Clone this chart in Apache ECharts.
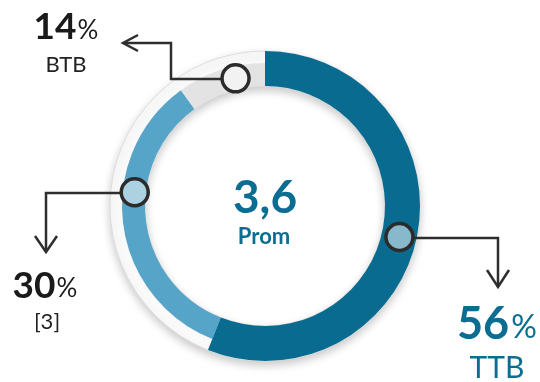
<!DOCTYPE html>
<html>
<head>
<meta charset="utf-8">
<script src="https://cdn.jsdelivr.net/npm/echarts@6/dist/echarts.min.js"></script>
<style>
html,body{margin:0;padding:0;background:#fff;}
#chart{width:540px;height:382px;}
</style>
</head>
<body>
<div id="chart"></div>
<script>
// ---- data ----
var categories = ['TTB', '[3]', 'BTB'];
var labelPct = [56, 30, 14];            // printed percentages
var arcShare = [56, 34, 10];            // arc sizes as drawn in the reference
var markerAngle = [103, 276, 347];      // degrees clockwise from 12 o'clock
var markerRadius = [138, 131, 131];
var avgValue = '3,6';
var avgLabel = 'Prom';

var DARK = '#086b8f', LIGHT = '#56a4c7', GRAY = '#e3e3e3', TEAL = '#0b6d91';
var CX = 265, CY = 206;
var T = 'rgba(0,0,0,0)';

var chart = echarts.init(document.getElementById('chart'), null, {renderer: 'canvas'});

function txt(x, y, text, font, color) {
  return {type: 'text', x: x, y: y, z: 10, silent: true,
    style: {text: text, font: font, fill: color,
      textAlign: 'center', textVerticalAlign: 'middle', align: 'center', verticalAlign: 'middle'}};
}
function line(pts) {
  return {type: 'polyline', z: 4, silent: true,
    shape: {points: pts}, style: {stroke: '#2e2e2e', lineWidth: 2.5, fill: null, lineJoin: 'miter'}};
}

var darkData = arcShare.map(function (v, i) {
  return {value: v, name: categories[i], itemStyle: {color: i === 0 ? DARK : T}};
});
var lightData = arcShare.map(function (v, i) {
  return {value: v, name: categories[i], itemStyle: {color: i === 1 ? LIGHT : (i === 2 ? GRAY : T)}};
});
var markerFill = ['#88b8cb', '#acd1e1', '#f2f2f2'];
var markerData = markerAngle.map(function (a, i) {
  return {value: [markerRadius[i], a], itemStyle: {color: markerFill[i]}};
});

var option = {
  animation: false,
  polar: {center: [CX, CY], radius: 155},
  angleAxis: {type: 'value', min: 0, max: 360, startAngle: 90, clockwise: true, show: false},
  radiusAxis: {type: 'value', min: 0, max: 155, show: false},
  series: [
    {type: 'pie', silent: true, center: [CX, CY], radius: [120, 155], z: 1,
      label: {show: false}, labelLine: {show: false}, emphasis: {disabled: true},
      data: [{value: 1, itemStyle: {color: '#fafafa', borderColor: '#dedede', borderWidth: 1,
        shadowBlur: 10, shadowColor: 'rgba(0,0,0,0.22)', shadowOffsetY: 4}}]},
    {type: 'pie', silent: true, center: [CX, CY], radius: [120, 143], startAngle: 90, clockwise: true, z: 2,
      label: {show: false}, labelLine: {show: false}, emphasis: {disabled: true}, data: lightData},
    {type: 'pie', silent: true, center: [CX, CY], radius: [120, 155], startAngle: 90, clockwise: true, z: 3,
      label: {show: false}, labelLine: {show: false}, emphasis: {disabled: true}, data: darkData},
    {type: 'scatter', coordinateSystem: 'polar', silent: true, z: 6,
      symbol: 'circle', symbolSize: 27,
      itemStyle: {borderColor: '#2b2b2b', borderWidth: 3.5, opacity: 1},
      data: markerData}
  ],
  graphic: [
    line([[235, 79], [171, 79], [171, 43], [124, 43]]),
    line([[138, 35], [123, 43], [138, 51]]),
    line([[135, 193], [46, 193], [46, 252]]),
    line([[35, 236], [46, 252], [57, 236]]),
    line([[400, 238], [498, 238], [498, 287]]),
    line([[487, 270], [498, 287], [509, 270]]),
    txt(55, 27, String(labelPct[2]), 'bold 37px Lato', '#1a1a1a'),
    txt(88, 31, '%', '26px Lato', '#1a1a1a'),
    txt(66, 65, categories[2], '22px Lato', '#222'),
    txt(34, 286, String(labelPct[1]), 'bold 37px Lato', '#1a1a1a'),
    txt(67, 289, '%', '26px Lato', '#1a1a1a'),
    txt(47, 322, categories[1], '22px Lato', '#222'),
    txt(483, 324, String(labelPct[0]), 'bold 45px Lato', TEAL),
    txt(524, 328, '%', '32px Lato', TEAL),
    txt(497, 368, categories[0], '30px Lato', TEAL),
    txt(265, 198, avgValue, 'bold 46px Lato', TEAL),
    txt(264, 237, avgLabel, 'bold 22px Lato', TEAL)
  ]
};
chart.setOption(option);
</script>
</body>
</html>
